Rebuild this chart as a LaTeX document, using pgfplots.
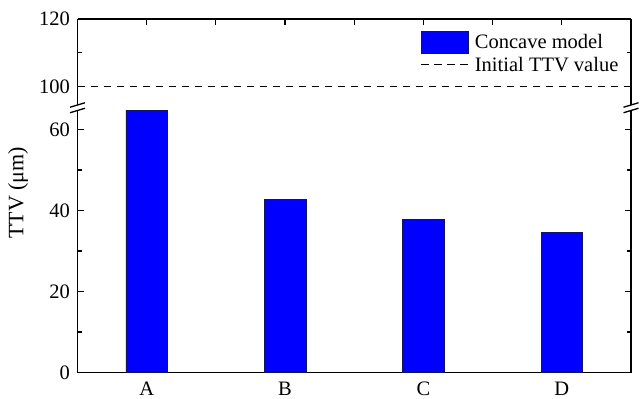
\documentclass[border=0pt]{standalone}
\usepackage{pgfplots}
\pgfplotsset{compat=1.18}
\usepackage{fontspec}
\setmainfont{Liberation Serif}

% TTV of the four samples (concave model)
\pgfplotstableread{
x  ttv
0  64.8
1  42.8
2  37.7
3  34.6
}\ttvdata

\definecolor{barblue}{RGB}{0,0,255}
\definecolor{baredge}{RGB}{20,20,90}

\pgfplotsset{
  brokenpart/.style={
    scale only axis,
    width=553.5bp,
    xmin=-0.5, xmax=3.5,
    axis y line*=box,
    font=\fontsize{20.5bp}{24bp}\selectfont,
    /pgf/number format/assume math mode=true,
    major tick length=6bp,
    minor tick length=4bp,
    axis line style={line width=1.4bp, black},
    tick style={line width=1.2bp, black},
    y tick label style={inner sep=0pt, xshift=-7.5bp},
  },
  barlegend/.style={legend image code/.code={
    \draw[fill=barblue, draw=baredge, line width=0.6bp] (0bp,-11bp) rectangle (47bp,11bp);}},
  dashlegend/.style={legend image code/.code={
    \draw[##1] (0bp,0bp) -- (47bp,0bp);}},
}

\begin{document}
\begin{tikzpicture}
\useasboundingbox (0,0) rectangle (641bp,399bp);

% lower part: 0 ... 65
\begin{axis}[brokenpart,
  at={(77.5bp,26.5bp)}, anchor=south west,
  height=264.5bp,
  ymin=0, ymax=65.3,
  axis x line*=bottom,
  ytick={0,20,40,60}, minor ytick={10,30,50},
  xtick={0,1,2,3}, xticklabels={A,B,C,D},
  x tick label style={inner sep=0pt, yshift=-9.5bp},
  ylabel={TTV (μm)},
  every axis y label/.style={at={(rel axis cs:-0.1075,0.679)}, rotate=90, anchor=center,
    font=\fontsize{22bp}{26bp}\selectfont},
]
\addplot[ybar, bar width=0.3, fill=barblue, draw=baredge, line width=0.6bp]
  table[x=x, y=ttv] {\ttvdata};
\end{axis}

% upper part: 94 ... 120
\begin{axis}[brokenpart,
  at={(77.5bp,291bp)}, anchor=south west,
  height=89bp,
  ymin=93.7, ymax=120,
  axis x line*=top,
  ytick={100,120}, minor ytick={110},
  xtick={0,0.5,1,1.5,2,2.5,3}, xticklabels={},
  legend cell align=left,
  legend style={draw=none, fill=none, inner sep=0pt,
    at={(rel axis cs:0.619,0.865)}, anchor=north west,
    nodes={inner sep=0pt},
    row sep=3bp,
    /tikz/every odd column/.append style={column sep=6bp}},
]
\addlegendimage{barlegend}
\addplot[black, line width=1.6bp, dash pattern=on 7.5bp off 5.5bp, dashlegend]
  coordinates {(-0.5,100) (3.5,100)};
\legend{Concave model, Initial TTV value}
\end{axis}

% axis-break marks on both sides
\foreach \cx in {77.5bp,631bp}{
  \fill[white] ([shift={(-7.5bp,0.5bp)}]\cx,291.25bp) -- ([shift={(7.5bp,5bp)}]\cx,291.25bp)
    -- ([shift={(7.5bp,-0.5bp)}]\cx,291.25bp) -- ([shift={(-7.5bp,-5bp)}]\cx,291.25bp) -- cycle;
  \draw[line width=1.3bp] ([shift={(-7.5bp,0.5bp)}]\cx,291.25bp) -- ([shift={(7.5bp,5bp)}]\cx,291.25bp);
  \draw[line width=1.3bp] ([shift={(-7.5bp,-5bp)}]\cx,291.25bp) -- ([shift={(7.5bp,-0.5bp)}]\cx,291.25bp);
}
\end{tikzpicture}
\end{document}
